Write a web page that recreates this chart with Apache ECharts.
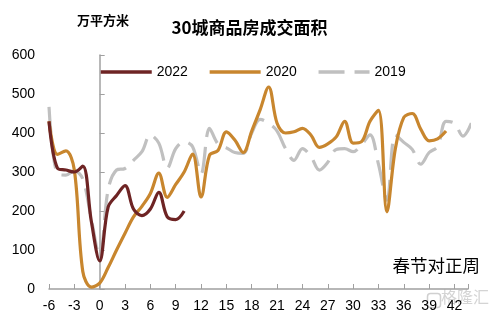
<!DOCTYPE html>
<html>
<head>
<meta charset="utf-8">
<script src="https://cdn.jsdelivr.net/npm/echarts@6/dist/echarts.min.js"></script>
<style>html,body{margin:0;padding:0;background:#fff}#c{width:499px;height:321px}</style>
</head>
<body>
<div id="c"></div>
<script>
// weeks relative to Spring Festival
const weeks = [];
for (let w = -6; w <= 44; w++) weeks.push(w);

const s2022 = [430, 310, 305, 300, 315, 175, 72, 210, 240, 265, 205, 188, 205, 248, 185, 178, 200];

const s2020 = [430, 345, 354, 305, 45, 5, 15, 55, 100, 143, 185, 212, 245, 297, 235, 268, 300, 346, 236, 343,
  355, 403, 382, 350, 405, 460, 518, 425, 400, 403, 412, 395, 363, 372, 390, 430, 374, 378, 430, 458,
  198, 360, 440, 450, 410, 380, 385, 405];

const s2019 = [467, 295, 292, 303, 282, 180, 82, 255, 305, 309, 330, 352, 395, 374, 310, 360, 378, 365, 295, 412,
  372, 362, 350, 348, 400, 435, 425, 405, 360, 330, 360, 340, 305, 325, 358, 360, 352, 370, 395, 320,
  228, 395, 376, 358, 320, 350, 365, 430, 425, 392, 425];

const yTicks = [0, 100, 200, 300, 400, 500, 600];

function pairs(vals) { return vals.map((v, i) => [weeks[i], v]); }

const chart = echarts.init(document.getElementById('c'), null, { renderer: 'canvas' });
const font = 'Liberation Sans, Arial, sans-serif';
const cjk = '"Noto Sans CJK SC", sans-serif';

chart.setOption({
  animation: false,
  backgroundColor: '#fff',
  title: {
    text: '30城商品房成交面积',
    left: 'center', top: 14,
    textStyle: { fontSize: 17, fontWeight: 'bold', fontFamily: cjk, color: '#000' }
  },
  legend: {
    left: 94, top: 60,
    itemWidth: 51, itemHeight: 14, itemGap: 20,
    textStyle: { fontSize: 14, fontFamily: font, color: '#000' },
    lineStyle: { width: 3.5 },
    itemStyle: { opacity: 0 },
    data: ['2022', '2020', '2019']
  },
  grid: { left: 49, right: 31, top: 55, bottom: 32, containLabel: false },
  xAxis: {
    type: 'value', min: -6, max: 43.6, interval: 3,
    axisLine: { lineStyle: { color: '#A0A0A0', width: 1.5 } },
    axisTick: { inside: true, length: 5, lineStyle: { color: '#A0A0A0' } },
    axisLabel: {
      margin: 10, fontSize: 14, fontFamily: font, color: '#000',
      formatter: v => (Math.abs(v % 3) < 1e-6 ? String(v) : '')
    },
    splitLine: { show: false }
  },
  yAxis: {
    type: 'value', min: yTicks[0], max: yTicks[yTicks.length - 1], interval: 100,
    axisLine: { show: true, lineStyle: { color: '#A0A0A0', width: 1.5 } },
    axisTick: { show: true, inside: true, length: 5, lineStyle: { color: '#A0A0A0' } },
    axisLabel: { margin: 14, fontSize: 14, fontFamily: font, color: '#000' },
    splitLine: { show: false }
  },
  series: [
    {
      name: '2022', type: 'line', data: pairs(s2022), smooth: 0.35, symbol: 'none', z: 5,
      lineStyle: { color: '#6E2424', width: 3.2 }, itemStyle: { color: '#6E2424' }
    },
    {
      name: '2020', type: 'line', data: pairs(s2020), smooth: 0.35, symbol: 'none', z: 4,
      lineStyle: { color: '#C8862E', width: 3.2 }, itemStyle: { color: '#C8862E' }
    },
    {
      name: '2019', type: 'line', data: pairs(s2019), smooth: 0.35, symbol: 'none', z: 3,
      lineStyle: { color: '#C0C0C0', width: 3.2, type: [26, 10] }, itemStyle: { color: '#C0C0C0' }
    }
  ],
  graphic: [
    { type: 'text', left: 77, top: 14, style: { text: '万平方米', font: 'bold 13px ' + cjk, fill: '#000' } },
    { type: 'text', right: 19, top: 257, style: { text: '春节对正周', font: '17.5px ' + cjk, fill: '#000' } },
    { type: 'rect', left: 425, top: 291, shape: { width: 13, height: 14, r: 3 }, style: { fill: 'none', stroke: '#d0d0d0', lineWidth: 1.5 } },
    { type: 'text', left: 441, top: 289, style: { text: '格隆汇', font: '16px ' + cjk, fill: '#d4d4d4' } }
  ]
});
</script>
</body>
</html>
